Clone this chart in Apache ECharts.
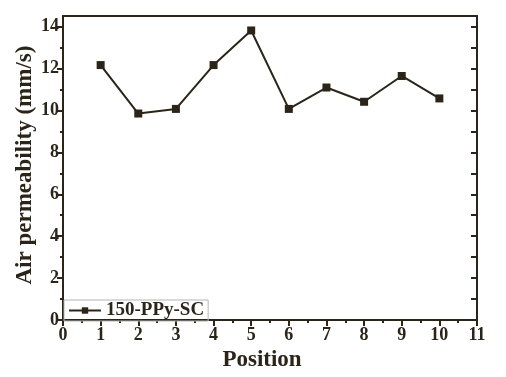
<!DOCTYPE html>
<html>
<head>
<meta charset="utf-8">
<script src="https://cdn.jsdelivr.net/npm/echarts@6/dist/echarts.min.js"></script>
<style>
  html, body { margin: 0; padding: 0; background: #fff; }
  #chart { width: 506px; height: 377px; }
</style>
</head>
<body>
<div id="chart"></div>
<script>
// data
var positions = [1, 2, 3, 4, 5, 6, 7, 8, 9, 10];
var permeability = [12.16, 9.85, 10.07, 12.16, 13.81, 10.07, 11.09, 10.41, 11.64, 10.57];
var seriesName = '150-PPy-SC';
var yMajorTicks = [0, 2, 4, 6, 8, 10, 12, 14];
var yMinorTicks = [1, 3, 5, 7, 9, 11, 13];
var yRightTicks = [0, 1, 2, 3, 4, 5, 6, 7, 8, 9, 10, 11, 12, 13, 14];

var ink = '#2b2419';
var serif = 'Liberation Serif';

var chart = echarts.init(document.getElementById('chart'));

var points = positions.map(function (p, i) {
  return [p, permeability[i]];
});

var option = {
  backgroundColor: '#fff',
  animation: false,
  grid: { left: 63, top: 16, width: 414, height: 307 },
  legend: {
    left: 64,
    top: 300,
    orient: 'horizontal',
    padding: [1, 4, 1, 4],
    itemWidth: 32,
    itemHeight: 8,
    itemGap: 4,
    borderColor: '#b5b5b5',
    borderWidth: 1,
    textStyle: { fontFamily: serif, fontWeight: 'bold', fontSize: 19, color: ink },
    data: [seriesName]
  },
  xAxis: [
    {
      type: 'value',
      position: 'bottom',
      min: 0, max: 11, interval: 1,
      name: 'Position',
      nameLocation: 'middle',
      nameGap: 27,
      nameTextStyle: { fontFamily: serif, fontWeight: 'bold', fontSize: 23, color: ink, padding: [0, 16, 0, 0] },
      axisLine: { show: true, onZero: false, lineStyle: { color: ink, width: 2 } },
      axisTick: { show: true, inside: false, length: 6, lineStyle: { color: ink, width: 2 } },
      minorTick: { show: true, splitNumber: 2, length: 3, lineStyle: { color: ink, width: 2 } },
      axisLabel: { margin: 6, fontFamily: serif, fontWeight: 'bold', fontSize: 18, color: ink },
      splitLine: { show: false }
    },
    {
      type: 'value',
      position: 'top',
      min: 0, max: 11,
      axisLine: { show: true, onZero: false, lineStyle: { color: ink, width: 2 } },
      axisTick: { show: false },
      axisLabel: { show: false },
      splitLine: { show: false }
    }
  ],
  yAxis: [
    {
      type: 'value',
      position: 'left',
      min: 0, max: 14.5,
      name: 'Air permeability (mm/s)',
      nameLocation: 'middle',
      nameGap: 26,
      nameMoveOverlap: false,
      nameTextStyle: { fontFamily: serif, fontWeight: 'bold', fontSize: 23, color: ink, padding: [0, 0, 0, 6] },
      axisLine: { show: true, onZero: false, lineStyle: { color: ink, width: 2 } },
      axisTick: { show: true, inside: false, length: 6, customValues: yMajorTicks, lineStyle: { color: ink, width: 2 } },
      axisLabel: { margin: 4, customValues: yMajorTicks, fontFamily: serif, fontWeight: 'bold', fontSize: 18, color: ink },
      splitLine: { show: false }
    },
    {
      type: 'value',
      position: 'left',
      min: 0, max: 14.5,
      axisLine: { show: false, onZero: false },
      axisTick: { show: true, inside: false, length: 3, customValues: yMinorTicks, lineStyle: { color: ink, width: 2 } },
      axisLabel: { show: false },
      splitLine: { show: false }
    },
    {
      type: 'value',
      position: 'right',
      min: 0, max: 14.5,
      axisLine: { show: true, onZero: false, lineStyle: { color: ink, width: 2 } },
      axisTick: { show: true, inside: true, length: 6, customValues: yRightTicks, lineStyle: { color: ink, width: 2 } },
      axisLabel: { show: false },
      splitLine: { show: false }
    }
  ],
  series: [
    {
      name: seriesName,
      type: 'line',
      xAxisIndex: 0,
      yAxisIndex: 0,
      data: points,
      symbol: 'rect',
      symbolSize: 8,
      lineStyle: { color: ink, width: 2 },
      itemStyle: { color: ink, borderWidth: 0 }
    }
  ]
};

chart.setOption(option);
</script>
</body>
</html>
